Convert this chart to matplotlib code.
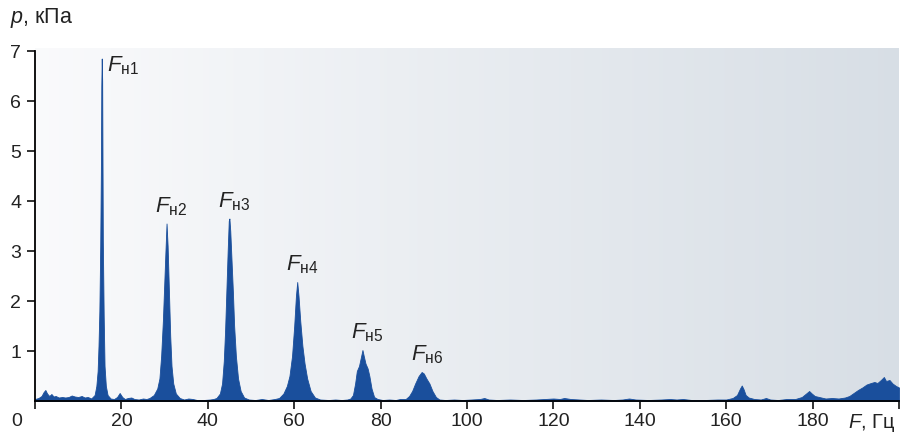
import matplotlib.pyplot as plt
import numpy as np

plt.rcParams['font.family'] = ['Liberation Sans', 'DejaVu Sans']
plt.rcParams['mathtext.fontset'] = 'custom'
plt.rcParams['mathtext.rm'] = 'Liberation Sans'
plt.rcParams['mathtext.it'] = 'Liberation Sans:italic'

# Pressure pulsation spectrum, frequency in Hz, amplitude in kPa
noise_lo_hz = [0, 0.8, 1.5, 2.0, 2.4, 2.8, 3.3, 3.8, 4.3, 4.8, 5.5, 6.3, 7.0, 7.8, 8.5, 9.2, 10.0, 10.8, 11.5, 12.2, 12.8]
noise_lo_kpa = [0.04, 0.06, 0.1, 0.18, 0.22, 0.15, 0.1, 0.14, 0.09, 0.1, 0.07, 0.08, 0.07, 0.08, 0.11, 0.09, 0.08, 0.1, 0.07, 0.08, 0.06]

peak1_hz = [13.0, 13.8, 14.2, 14.5, 14.7, 14.9, 15.1, 15.25, 15.35, 15.45, 15.55, 15.7, 15.9, 16.1, 16.4, 16.8, 17.5]
peak1_kpa = [0.05, 0.12, 0.3, 0.6, 1.1, 1.8, 3.1, 4.6, 6.3, 6.85, 6.4, 3.2, 1.7, 0.7, 0.3, 0.12, 0.05]

gap1_hz = [18.3, 19.0, 19.6, 20.2, 20.8, 21.5, 22.3, 23.0, 24.0, 25.0, 25.8]
gap1_kpa = [0.04, 0.08, 0.16, 0.08, 0.04, 0.06, 0.07, 0.04, 0.03, 0.05, 0.04]

peak2_hz = [26.5, 27.5, 28.3, 28.8, 29.2, 29.6, 29.9, 30.2, 30.45, 30.7, 31.0, 31.3, 31.6, 32.0, 32.6, 33.5]
peak2_kpa = [0.06, 0.12, 0.25, 0.45, 0.9, 1.6, 2.3, 3.0, 3.55, 3.1, 2.2, 1.3, 0.7, 0.35, 0.15, 0.06]

gap2_hz = [34.5, 35.5, 36.5, 37.5, 39.0, 40.5, 41.3]
gap2_kpa = [0.03, 0.05, 0.04, 0.02, 0.02, 0.03, 0.04]

peak3_hz = [42.0, 42.8, 43.3, 43.7, 44.0, 44.3, 44.6, 44.85, 45.0, 45.2, 45.5, 45.8, 46.1, 46.5, 47.0, 47.6, 48.4]
peak3_kpa = [0.06, 0.15, 0.35, 0.8, 1.4, 2.2, 3.0, 3.6, 3.65, 3.4, 2.8, 2.2, 1.5, 0.9, 0.45, 0.2, 0.07]

gap3_hz = [49.5, 51.0, 52.5, 54.0, 55.5]
gap3_kpa = [0.03, 0.02, 0.04, 0.02, 0.04]

peak4_hz = [56.5, 57.5, 58.3, 58.9, 59.5, 60.0, 60.4, 60.7, 61.0, 61.4, 61.9, 62.4, 63.0, 63.8, 64.8]
peak4_kpa = [0.06, 0.15, 0.3, 0.5, 0.9, 1.5, 2.1, 2.38, 2.1, 1.6, 1.1, 0.75, 0.45, 0.2, 0.07]

gap4_hz = [66.0, 68.0, 69.5, 71.0, 72.3]
gap4_kpa = [0.03, 0.02, 0.03, 0.02, 0.03]

peak5_hz = [73.0, 73.6, 74.1, 74.5, 75.0, 75.5, 75.8, 76.1, 76.5, 77.0, 77.4, 77.9, 78.5, 79.3]
peak5_kpa = [0.05, 0.12, 0.35, 0.6, 0.7, 0.9, 1.02, 0.9, 0.75, 0.65, 0.5, 0.25, 0.08, 0.04]

gap5_hz = [80.5, 82.0, 83.5, 84.5]
gap5_kpa = [0.02, 0.03, 0.02, 0.04]

peak6_hz = [85.8, 86.6, 87.3, 88.0, 88.8, 89.5, 90.0, 90.6, 91.3, 92.0, 92.8, 93.6]
peak6_kpa = [0.04, 0.1, 0.2, 0.35, 0.5, 0.58, 0.55, 0.45, 0.35, 0.2, 0.08, 0.03]

tail_hz = [95, 97, 99, 101, 103, 104, 105, 107, 110, 113, 116, 118, 120, 121.5, 122.5, 124, 126, 128,
           131, 134, 136, 137.5, 139, 142, 145, 147, 148.5, 150, 152, 155, 158, 160, 161.5, 162.5,
           163.2, 163.6, 164.0, 164.5, 165.2, 166.5, 168, 169.2, 170.2, 172, 174, 176, 177.5, 178.5,
           179.2, 179.8, 180.5, 181.5, 183, 184.5, 186, 187.5, 188.5, 189.5, 190.5, 191.5, 192.5,
           193.5, 194.3, 195.0, 195.8, 196.5, 197.0, 197.8, 198.5, 199.3, 200]
tail_kpa = [0.02, 0.03, 0.02, 0.03, 0.04, 0.06, 0.03, 0.02, 0.03, 0.02, 0.03, 0.04, 0.05, 0.04, 0.06, 0.04, 0.03, 0.02,
            0.03, 0.02, 0.03, 0.05, 0.03, 0.02, 0.03, 0.04, 0.03, 0.04, 0.02, 0.02, 0.03, 0.03, 0.06, 0.12,
            0.25, 0.31, 0.24, 0.12, 0.07, 0.04, 0.03, 0.06, 0.03, 0.02, 0.04, 0.04, 0.08, 0.15,
            0.2, 0.15, 0.1, 0.08, 0.05, 0.06, 0.05, 0.07, 0.1, 0.16, 0.22, 0.27, 0.33,
            0.36, 0.38, 0.36, 0.42, 0.48, 0.4, 0.42, 0.35, 0.3, 0.27]

# harmonic labels, anchored at each peak top
harm_labels = ['н1', 'н2', 'н3', 'н4', 'н5', 'н6']
harm_hz = [15.45, 30.45, 45.0, 60.7, 75.8, 89.5]
harm_kpa = [6.85, 3.55, 3.65, 2.38, 1.02, 0.58]

freq = np.concatenate([noise_lo_hz, peak1_hz, gap1_hz, peak2_hz, gap2_hz, peak3_hz, gap3_hz,
                       peak4_hz, gap4_hz, peak5_hz, gap5_hz, peak6_hz, tail_hz])
amp = np.concatenate([noise_lo_kpa, peak1_kpa, gap1_kpa, peak2_kpa, gap2_kpa, peak3_kpa, gap3_kpa,
                      peak4_kpa, gap4_kpa, peak5_kpa, gap5_kpa, peak6_kpa, tail_kpa])

fig = plt.figure(figsize=(9.03, 4.33), dpi=100)
ax = fig.add_axes([35 / 903, 32 / 433, 864 / 903, 353 / 433])
ax.set_xlim(0, 200)
ax.set_ylim(0, 7.06)

# light horizontal background gradient
grad = np.linspace(0, 1, 256).reshape(1, -1)
c0 = np.array([0.98, 0.982, 0.988])
c1 = np.array([0.845, 0.872, 0.9])
img = c0 + (c1 - c0) * grad[..., None]
ax.imshow(img, extent=[0, 200, 0, 7.06], aspect='auto', zorder=0, interpolation='bilinear')

ax.fill_between(freq, 0, amp, color='#1a4f9c', linewidth=0.6, edgecolor='#1a4f9c', zorder=2)

for spine in ['top', 'right']:
    ax.spines[spine].set_visible(False)
ax.spines['left'].set_bounds(0, 7)
for spine in ['left', 'bottom']:
    ax.spines[spine].set_linewidth(1.3)
    ax.spines[spine].set_zorder(3)

ax.set_yticks(range(1, 8))
ax.set_xticks(range(0, 201, 20))
ax.set_xticklabels([''] + [str(v) for v in range(20, 181, 20)] + [''])
ax.tick_params(axis='both', direction='out', length=6, width=1.3, labelsize=14, colors='#222222')
ax.tick_params(axis='y', pad=4)
ax.tick_params(axis='x', pad=3)

ax.text(-0.021, -0.035, '0', transform=ax.transAxes, fontsize=14, ha='center', va='top', color='#222222')
fig.text(10 / 903, 1 - 18 / 433, '$p$, кПа', fontsize=15.5, ha='left', va='center', color='#222222')
fig.text(895 / 903, 1 - 423 / 433, '$F$, Гц', fontsize=14.5, ha='right', va='center', color='#222222')

for i, (lab, fx, py) in enumerate(zip(harm_labels, harm_hz, harm_kpa)):
    if i == 0:
        offset, va = (4, 3), 'top'
    else:
        offset, va = (-8, 4), 'bottom'
    ax.annotate(r'$F_{\mathrm{%s}}$' % lab, (fx, py), xytext=offset, textcoords='offset points',
                fontsize=16, ha='left', va=va, color='#222222')

fig.savefig('out.png', dpi=100)
